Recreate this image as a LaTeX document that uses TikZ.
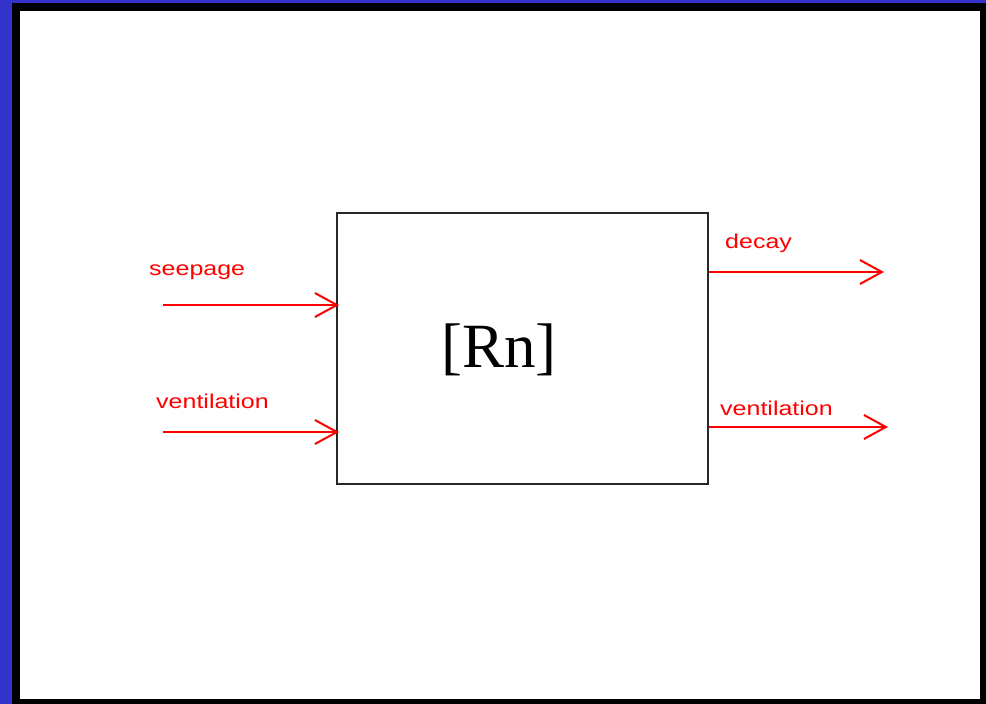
\documentclass[tikz,border=0pt]{standalone}
\usepackage{fontspec}
\setmainfont{Liberation Serif}
\newfontfamily\lblfont{Liberation Sans}
\usetikzlibrary{arrows.meta}
\definecolor{frameblue}{RGB}{51,51,204}
\definecolor{boxgray}{RGB}{40,40,40}
\begin{document}
\begin{tikzpicture}[x=1pt,y=-1pt,
  flow/.style={draw=red, line width=2pt, -{Straight Barb[length=22pt,width=24pt,line width=2pt]}},
  lbl/.style={inner sep=0pt, anchor=base west, text=red, font=\lblfont\fontsize{20}{24}\selectfont},
  mainbox/.style={draw=boxgray, line width=2pt, minimum width=371pt, minimum height=271pt, inner sep=0pt}]
\useasboundingbox (0,0) rectangle (986,704);
\fill[frameblue] (0,0) rectangle (986,704);
\fill[black] (12,3) rectangle (986,704);
\fill[white] (20,11) rectangle (980,699);
\node[mainbox] (box) at (522.5,348.5) {};
\node[inner sep=0pt, anchor=base, font=\fontsize{63}{70}\selectfont] (rn) at (499,367) {[Rn]};
% inputs
\coordinate (sIn) at (163,305);
\coordinate (vIn) at (163,432);
\draw[flow, shorten >=-3pt] (sIn) -- (box.west |- sIn);
\draw[flow, shorten >=-3pt] (vIn) -- (box.west |- vIn);
% outputs
\coordinate (dOut) at (884,272);
\coordinate (vOut) at (888,427);
\draw[flow] (box.east |- dOut) -- (dOut);
\draw[flow] (box.east |- vOut) -- (vOut);
% labels
\node[lbl] (lseep) at (149,275) {\scalebox{1.25}[1]{seepage}};
\node[lbl] (lvin) at (156,408) {\scalebox{1.25}[1]{ventilation}};
\node[lbl] (ldecay) at (725,248) {\scalebox{1.25}[1]{decay}};
\node[lbl] (lvout) at (720,415) {\scalebox{1.25}[1]{ventilation}};
\end{tikzpicture}
\end{document}
